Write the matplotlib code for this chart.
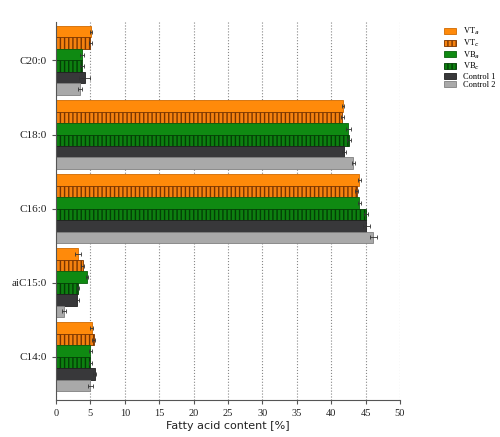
import numpy as np
import matplotlib
matplotlib.use("Agg")
import matplotlib.pyplot as plt

# groups from bottom to top
acids = ["C14:0", "aiC15:0", "C16:0", "C18:0", "C20:0"]
series = ["VT$_a$", "VT$_c$", "VB$_a$", "VB$_c$", "Control 1", "Control 2"]

vt_a = [5.2, 3.2, 44.1, 41.7, 5.1]
vt_c = [5.5, 3.9, 43.7, 41.6, 5.0]
vb_a = [5.0, 4.5, 44.1, 42.5, 3.8]
vb_c = [5.0, 3.2, 45.1, 42.6, 3.8]
ctrl1 = [5.6, 3.1, 45.1, 41.9, 4.2]
ctrl2 = [5.0, 1.1, 46.1, 43.2, 3.5]

err_vt_a = [0.2, 0.4, 0.2, 0.2, 0.2]
err_vt_c = [0.2, 0.2, 0.2, 0.2, 0.2]
err_vb_a = [0.2, 0.2, 0.2, 0.4, 0.3]
err_vb_c = [0.2, 0.2, 0.3, 0.3, 0.3]
err_ctrl1 = [0.2, 0.2, 0.5, 0.3, 0.8]
err_ctrl2 = [0.4, 0.3, 0.5, 0.2, 0.3]

values = [vt_a, vt_c, vb_a, vb_c, ctrl1, ctrl2]
errors = [err_vt_a, err_vt_c, err_vb_a, err_vb_c, err_ctrl1, err_ctrl2]

colors = ["#ff8a0a", "#f5820f", "#0f8a12", "#0d7f10", "#38383a", "#a9a9a9"]
hatches = [None, "||||", None, "||||", None, None]
edges = ["#d06a00", "#7a3500", "#0a600c", "#033f05", "#202020", "#808080"]

fig = plt.figure(figsize=(5, 4.37), dpi=100)
ax = fig.add_axes([0.112, 0.085, 0.688, 0.865])

h = 0.155
y = np.arange(len(acids))
for i in range(len(series)):
    pos = y + (2.5 - i) * h
    ax.barh(pos, values[i], height=h, color=colors[i], edgecolor=edges[i],
            hatch=hatches[i], linewidth=0.6, label=series[i],
            xerr=errors[i], error_kw=dict(ecolor="#333333", elinewidth=0.6, capsize=1.5, capthick=0.6))

ax.set_xlim(0, 50)
ax.set_ylim(-0.58, 4.52)
ax.set_xticks(np.arange(0, 51, 5))
ax.set_yticks(y)
ax.set_yticklabels(acids, fontfamily="Liberation Serif", fontsize=8)
for t in ax.get_xticklabels():
    t.set_fontfamily("Liberation Serif")
    t.set_fontsize(7.5)
ax.xaxis.grid(True, linestyle=":", color="#888888", linewidth=0.8)
ax.set_axisbelow(True)
for s in ["top", "right"]:
    ax.spines[s].set_visible(False)
ax.spines["left"].set_color("#555555")
ax.spines["bottom"].set_color("#555555")
ax.tick_params(axis="both", colors="#555555", labelcolor="#222222", length=3)
ax.set_xlabel("Fatty acid content [%]", fontsize=8, color="#222222", labelpad=2)

leg = fig.legend(loc="upper left", bbox_to_anchor=(0.872, 0.958), frameon=False,
                 prop={"family": "Liberation Serif", "size": 6},
                 handlelength=1.5, handleheight=0.7, labelspacing=0.02, handletextpad=0.8)

fig.savefig("out.png", dpi=100)
